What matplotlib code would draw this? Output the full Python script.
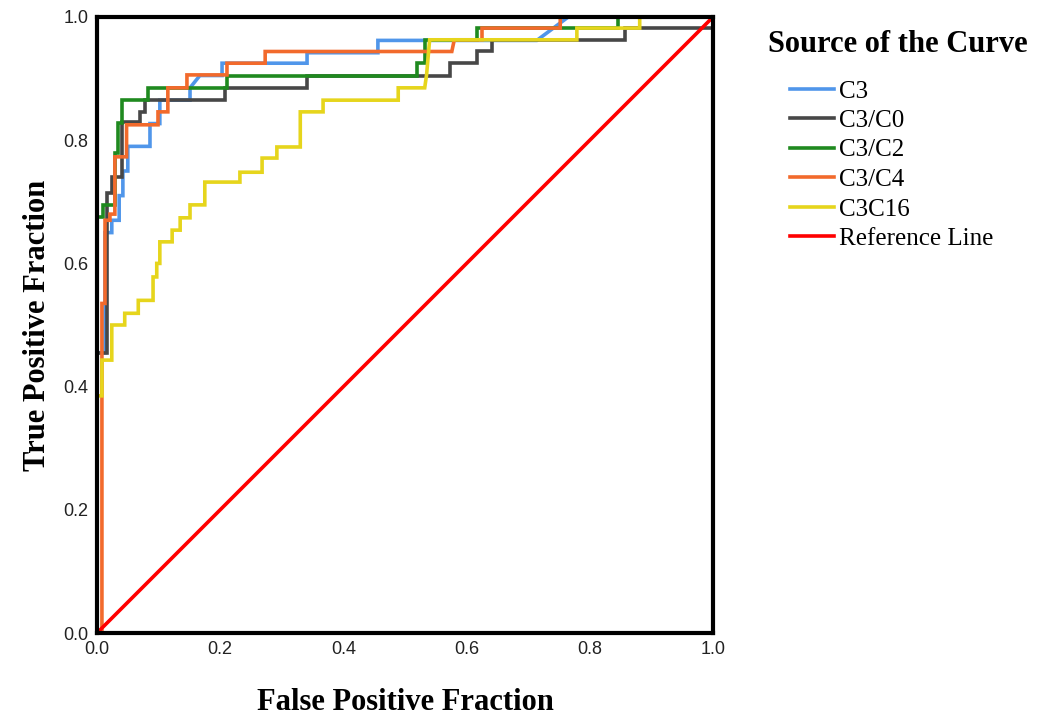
import numpy as np
import matplotlib
matplotlib.use('Agg')
import matplotlib.pyplot as plt

# ROC curve corner points (False Positive Fraction, True Positive Fraction)
c3_fpr = [0, 0, 0.013, 0.013, 0.024, 0.024, 0.036, 0.036, 0.042, 0.042, 0.05, 0.05,
          0.086, 0.086, 0.102, 0.102, 0.151, 0.151, 0.167, 0.203, 0.203, 0.341, 0.341,
          0.456, 0.456, 0.714, 0.765, 1.0]
c3_tpr = [0, 0.455, 0.455, 0.65, 0.65, 0.67, 0.67, 0.71, 0.71, 0.75, 0.75, 0.79,
          0.79, 0.827, 0.827, 0.865, 0.865, 0.885, 0.905, 0.905, 0.925, 0.925, 0.942,
          0.942, 0.962, 0.962, 1.0, 1.0]

c3c0_fpr = [0, 0, 0.017, 0.017, 0.024, 0.024, 0.041, 0.041, 0.07, 0.07, 0.078, 0.078,
            0.208, 0.208, 0.341, 0.341, 0.573, 0.573, 0.617, 0.617, 0.641, 0.641,
            0.857, 0.857, 1.0, 1.0]
c3c0_tpr = [0, 0.455, 0.455, 0.714, 0.714, 0.74, 0.74, 0.83, 0.83, 0.846, 0.846, 0.865,
            0.865, 0.885, 0.885, 0.905, 0.905, 0.925, 0.925, 0.944, 0.944, 0.963,
            0.963, 0.982, 0.982, 1.0]

c3c2_fpr = [0, 0, 0.01, 0.01, 0.029, 0.029, 0.034, 0.034, 0.041, 0.041, 0.083, 0.083,
            0.211, 0.211, 0.52, 0.52, 0.532, 0.532, 0.617, 0.617, 0.846, 0.846, 1.0]
c3c2_tpr = [0, 0.675, 0.675, 0.695, 0.695, 0.78, 0.78, 0.828, 0.828, 0.865, 0.865, 0.885,
            0.885, 0.905, 0.905, 0.925, 0.925, 0.963, 0.963, 0.982, 0.982, 1.0, 1.0]

c3c4_fpr = [0, 0.008, 0.008, 0.013, 0.013, 0.021, 0.021, 0.029, 0.029, 0.048, 0.048,
            0.099, 0.099, 0.115, 0.115, 0.146, 0.146, 0.211, 0.211, 0.273, 0.273,
            0.576, 0.58, 0.625, 0.625, 0.752, 0.752, 1.0]
c3c4_tpr = [0, 0, 0.535, 0.535, 0.67, 0.67, 0.68, 0.68, 0.773, 0.773, 0.825,
            0.825, 0.846, 0.846, 0.885, 0.885, 0.906, 0.906, 0.925, 0.925, 0.944,
            0.944, 0.963, 0.963, 0.982, 0.982, 1.0, 1.0]

c3c16_fpr = [0, 0, 0.008, 0.008, 0.024, 0.024, 0.045, 0.045, 0.067, 0.067, 0.091, 0.091,
             0.097, 0.097, 0.102, 0.102, 0.122, 0.122, 0.135, 0.135, 0.151, 0.151,
             0.175, 0.175, 0.232, 0.232, 0.268, 0.268, 0.292, 0.292, 0.330, 0.330,
             0.367, 0.367, 0.489, 0.489, 0.532, 0.535, 0.54, 0.779, 0.779, 0.881, 0.881, 1.0]
c3c16_tpr = [0, 0.385, 0.385, 0.443, 0.443, 0.5, 0.5, 0.519, 0.519, 0.54, 0.54, 0.578,
             0.578, 0.6, 0.6, 0.635, 0.635, 0.654, 0.654, 0.674, 0.674, 0.695,
             0.695, 0.732, 0.732, 0.748, 0.748, 0.771, 0.771, 0.789, 0.789, 0.846,
             0.846, 0.865, 0.865, 0.885, 0.885, 0.906, 0.963, 0.963, 0.982, 0.982, 1.0, 1.0]

ref_x = [0, 1]
ref_y = [0, 1]

curves = [
    ('C3', c3_fpr, c3_tpr, '#5096ea'),
    ('C3/C0', c3c0_fpr, c3c0_tpr, '#474747'),
    ('C3/C2', c3c2_fpr, c3c2_tpr, '#1f8a1f'),
    ('C3/C4', c3c4_fpr, c3c4_tpr, '#f26a2c'),
    ('C3C16', c3c16_fpr, c3c16_tpr, '#e6d51c'),
    ('Reference Line', ref_x, ref_y, '#ff0000'),
]

ticks = [0.0, 0.2, 0.4, 0.6, 0.8, 1.0]
tick_labels = ['0.0', '0.2', '0.4', '0.6', '0.8', '1.0']

fig = plt.figure(figsize=(10.5, 7.15), dpi=100)
ax = fig.add_axes([97 / 1050, 82 / 715, 616 / 1050, 616 / 715])

for name, xs, ys, col in curves:
    ax.plot(xs, ys, color=col, lw=2.6, label=name, solid_joinstyle='miter')

ax.set_xlim(0, 1)
ax.set_ylim(0, 1)
ax.set_xticks(ticks)
ax.set_xticklabels(tick_labels, family='Liberation Sans')
ax.set_yticks(ticks)
ax.set_yticklabels(tick_labels, family='Liberation Sans')
ax.tick_params(length=0, labelsize=13, colors='#222222', pad=6)
for sp in ax.spines.values():
    sp.set_linewidth(3)
    sp.set_color('black')
    sp.set_zorder(10)

serif = ['Liberation Serif', 'DejaVu Serif']
ax.set_xlabel('False Positive Fraction', family=serif, fontsize=22, fontweight='bold', labelpad=21)
ax.set_ylabel('True Positive Fraction', family=serif, fontsize=22, fontweight='bold', labelpad=8)

fig.text(768 / 1050, 1 - 45 / 715, 'Source of the Curve', family=serif, fontsize=22,
         fontweight='bold', va='center', ha='left')
ax.legend(loc='upper left', bbox_to_anchor=(780 / 1050, 1 - 70 / 715),
          bbox_transform=fig.transFigure, frameon=False,
          prop={'family': serif, 'size': 18}, handlelength=1.75, handletextpad=0.2,
          labelspacing=0.28, borderaxespad=0)

fig.savefig('out.png', dpi=100)
